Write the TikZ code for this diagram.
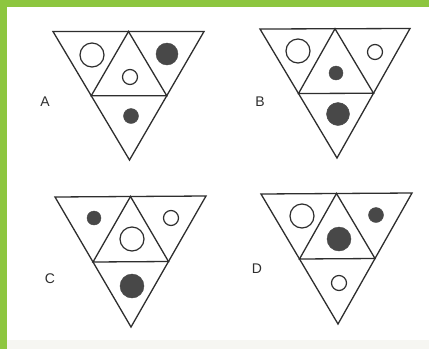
\documentclass[tikz,border=0pt]{standalone}
\usepackage{fontspec}
\setmainfont{Liberation Sans}
\usetikzlibrary{calc}
\definecolor{framegreen}{HTML}{8DC63F}
\definecolor{ink}{HTML}{2E2E2E}
\definecolor{dotfill}{HTML}{484848}
\definecolor{bandgray}{HTML}{F6F6F2}
\tikzset{
  triline/.style={draw=ink, line width=1.3pt, line join=miter},
  opencirc/.style={draw=ink, line width=1.2pt, fill=white},
  dotcirc/.style={fill=dotfill, draw=dotfill, line width=0.4pt},
  optlabel/.style={font=\fontsize{14}{16}\selectfont, text=ink, inner sep=0pt},
}
\newcommand{\puzzletri}[4]{%
  \coordinate (#1-l) at (#2);
  \coordinate (#1-r) at (#3);
  \coordinate (#1-b) at (#4);
  \coordinate (#1-t) at ($(#1-l)!0.5!(#1-r)$);
  \coordinate (#1-ml) at ($(#1-l)!0.5!(#1-b)$);
  \coordinate (#1-mr) at ($(#1-r)!0.5!(#1-b)$);
  \draw[triline] (#1-l) -- (#1-r) -- (#1-b) -- cycle;
  \draw[triline] (#1-t) -- (#1-ml) -- (#1-mr) -- cycle;
}
\begin{document}
\begin{tikzpicture}[x=1pt,y=-1pt]
\useasboundingbox (0,0) rectangle (429,349);
\fill[white] (0,0) rectangle (429,349);
\fill[bandgray] (7,340) rectangle (429,349);
\fill[framegreen] (0,0) rectangle (429,7);
\fill[framegreen] (0,0) rectangle (7,349);

% A
\puzzletri{A}{53,31.5}{204,31.5}{129.5,160}
\draw[opencirc] (92,55) circle[radius=12pt];
\fill[dotcirc] (167,54) circle[radius=11pt];
\draw[opencirc] (130,77) circle[radius=7.5pt];
\fill[dotcirc] (131,116) circle[radius=7.5pt];
\node[optlabel] (la) at (45,102) {A};

% B
\puzzletri{B}{260,29}{410,28.5}{337,158}
\draw[opencirc] (298,51) circle[radius=12pt];
\draw[opencirc] (375,52) circle[radius=7.5pt];
\fill[dotcirc] (336,73) circle[radius=7pt];
\fill[dotcirc] (338,114) circle[radius=11.5pt];
\node[optlabel] (lb) at (260,102) {B};

% C
\puzzletri{C}{55,197}{206,196}{131,327}
\fill[dotcirc] (94,218) circle[radius=7pt];
\draw[opencirc] (171,218) circle[radius=7.5pt];
\draw[opencirc] (132,239) circle[radius=12pt];
\fill[dotcirc] (132,286) circle[radius=12pt];
\node[optlabel] (lc) at (50,279) {C};

% D
\puzzletri{D}{261,194}{412,193}{338,324}
\draw[opencirc] (302,216) circle[radius=12pt];
\fill[dotcirc] (376,215) circle[radius=7.5pt];
\fill[dotcirc] (339,239) circle[radius=12pt];
\draw[opencirc] (339,283) circle[radius=7.5pt];
\node[optlabel] (ld) at (257,269) {D};
\end{tikzpicture}
\end{document}
